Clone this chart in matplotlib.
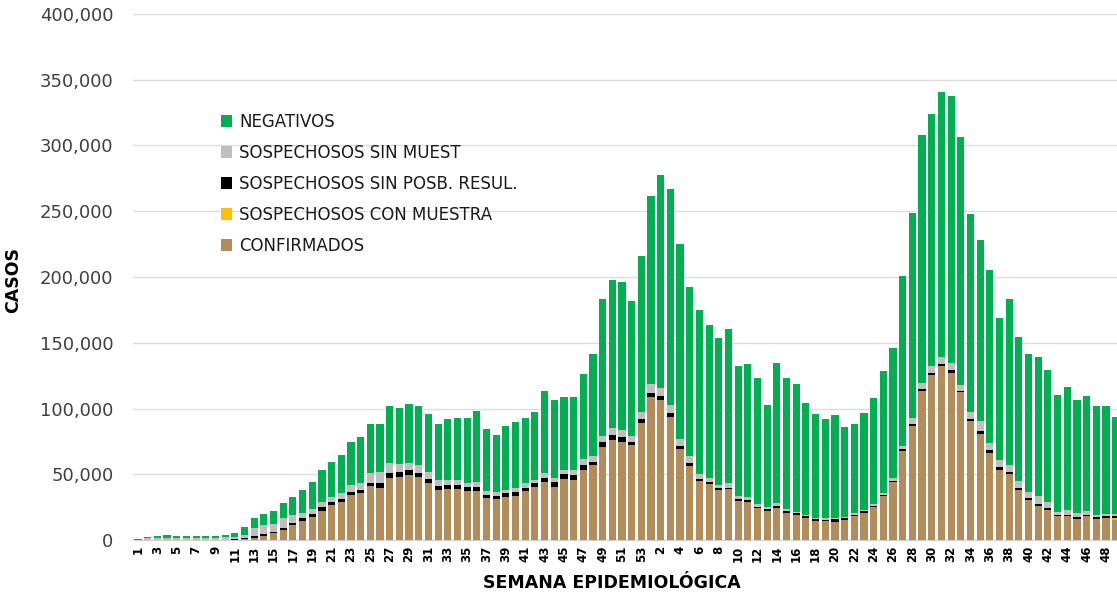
import matplotlib
matplotlib.use("Agg")
import matplotlib.pyplot as plt
import numpy as np
from matplotlib.patches import Patch

plt.rcParams['font.family'] = ['DejaVu Sans']

weeks = list(range(1, 54)) + list(range(1, 50))

confirmados = [
    0, 0, 0, 0, 0, 0, 0, 0, 0, 50, 200, 500, 1800, 3300, 5000, 7800, 11400, 14400,
    17500, 22300, 26500, 29000, 34200, 35900, 41000, 39700, 47300, 47800, 49600, 47800,
    43500, 38000, 38500, 38500, 36900, 37400, 31900, 31100, 32400, 33600, 37400, 40200,
    44000, 40200, 46300, 45500, 53600, 56900, 70600, 76200, 74400, 71900, 88800,
    108500, 106500, 93400, 69300, 56200, 45000, 42300, 38000, 38500, 29600, 28800, 24500,
    22000, 24500, 20700, 19200, 17000, 14700, 14400, 13900, 15200, 18000, 20700, 25000,
    33400, 43800, 67800, 87000, 113100, 125200, 132100, 127000, 112300, 90600, 80400,
    66500, 53400, 50100, 37700, 30600, 26100, 23000, 18200, 18200, 16200, 18200, 15700,
    16400, 15000]

con_muestra = [0] * 99 + [200, 500, 2000]

sin_posib = [
    0, 0, 0, 0, 0, 0, 0, 0, 0, 300, 800, 1000, 1500, 1300, 1000, 1500, 1800, 2000,
    2300, 3000, 2500, 2500, 2500, 2500, 2500, 3300, 3800, 4000, 3500, 3500, 2800, 3000,
    3000, 3300, 3300, 3000, 2300, 2300, 3000, 3000, 2500, 2800, 3300, 3800, 3800, 4000,
    3800, 2500, 3800, 3300, 4000, 2800, 3500,
    3300, 3000, 2800, 2500, 2300, 1500, 1500, 1300, 1300, 1300, 1800, 800, 1300, 1500,
    1000, 1000, 1300, 1000, 1000, 1800, 1300, 1000, 1000, 1000, 800, 1300, 1500, 1500,
    1500, 1500, 1500, 2000, 1300, 1500, 2300, 1800, 1800, 1800, 1800, 1500, 1500, 1000,
    1000, 1000, 1000, 1000, 1300, 1300, 1300]

sin_muestra = [
    300, 1200, 1500, 1700, 1500, 1500, 1500, 1500, 1500, 1700, 1300, 2300, 6000, 6800,
    6300, 7600, 5800, 3800, 3800, 3800, 3500, 4000, 5100, 5300, 7100, 8600, 7600, 5800,
    5100, 5600, 5300, 4600, 4000, 3800, 3500, 3800, 3000, 3300, 3000, 3000, 3800, 3000,
    3300, 3500, 3000, 3500, 4000, 4600, 4600, 5800, 5100, 4300, 5100,
    6600, 5800, 6100, 4800, 5100, 3500, 3500, 2500, 3300, 2500, 1800, 2000, 2000, 1800,
    1500, 1300, 800, 1000, 1000, 1300, 1300, 1300, 1000, 1300, 1300, 2300, 2300, 4000,
    4600, 5300, 5600, 5300, 4600, 5100, 7600, 5600, 5600, 5100, 5600, 4300, 6100, 5100,
    1800, 3500, 3000, 3000, 1500, 1300, 1300]

negativos = [
    500, 1100, 1500, 2100, 1500, 1500, 1500, 1500, 1500, 1800, 3000, 6000, 7700, 8100,
    10000, 11200, 14000, 17800, 20300, 24400, 27000, 29100, 32700, 34900, 37900, 36400,
    43000, 43000, 45200, 44800, 44400, 42400, 46300, 46900, 49300, 53700, 47000, 43400,
    48300, 49900, 48800, 51300, 63000, 59000, 55900, 56000, 64800, 77200, 104300, 112700,
    112700, 102800, 118800,
    143400, 162000, 164900, 148500, 128800, 124700, 116200, 111600, 117100, 98900, 101200,
    96100, 77100, 106800, 99800, 96900, 84900, 79100, 75400, 78000, 68400, 68200, 73600,
    80400, 93000, 98900, 129400, 155900, 188500, 192000, 201500, 203100, 188300, 150700,
    137600, 131200, 108300, 126300, 109000, 104800, 105500, 99900, 89000, 93400, 86000,
    87300, 83000, 82200, 73700]

series = [
    ("CONFIRMADOS", confirmados, "#B38C5B"),
    ("SOSPECHOSOS CON MUESTRA", con_muestra, "#FFC000"),
    ("SOSPECHOSOS SIN POSB. RESUL.", sin_posib, "#000000"),
    ("SOSPECHOSOS SIN MUEST", sin_muestra, "#BFBFBF"),
    ("NEGATIVOS", negativos, "#00B050"),
]

fig = plt.figure(figsize=(11.17, 5.94), dpi=100)
ax = fig.add_axes([133 / 1117, 54 / 594, 1 - 133 / 1117, 526 / 594])

x = np.arange(len(weeks))
bottom = np.zeros(len(weeks))
handles = []
for name, vals, col in series:
    v = np.array(vals, dtype=float)
    ax.bar(x, v, bottom=bottom, width=0.74, color=col, linewidth=0, zorder=3)
    bottom += v
    handles.append(Patch(facecolor=col, edgecolor='none', label=name))

ax.set_ylim(0, 400000)
ax.set_xlim(-0.52, 101.14)
ax.set_yticks(np.arange(0, 400001, 50000))
ax.set_yticklabels([f"{v:,}" for v in range(0, 400001, 50000)], fontsize=13, color="#404040")
ax.yaxis.grid(True, color="#DCDCDC", linewidth=1, zorder=0)
ax.set_axisbelow(True)
for s in ["top", "right", "left"]:
    ax.spines[s].set_visible(False)
ax.spines["bottom"].set_color("#D0D0D0")
ax.tick_params(axis="y", length=0, pad=14)

ax.set_xticks(x[::2])
ax.set_xticklabels([str(w) for w in weeks[::2]], rotation=90, fontsize=8.5,
                   fontweight="bold", color="#000000")
ax.tick_params(axis="x", length=0, pad=4)

ax.set_xlabel("SEMANA EPIDEMIOLÓGICA", fontsize=12.5, fontweight="bold")
ax.xaxis.set_label_coords(0.487, -0.064)
ax.set_ylabel("CASOS", fontsize=12.5, fontweight="bold")
ax.yaxis.set_label_coords(-0.113, 0.494)

leg = ax.legend(handles=handles[::-1], loc="upper left",
                bbox_to_anchor=(214 / 1117, 1 - 106 / 594), bbox_transform=fig.transFigure,
                frameon=False, fontsize=12, handlelength=0.7, handleheight=0.7,
                handletextpad=0.4, labelspacing=0.78, borderaxespad=0)
for t in leg.get_texts():
    t.set_color("#1a1a1a")

fig.savefig("out.png", dpi=100)
